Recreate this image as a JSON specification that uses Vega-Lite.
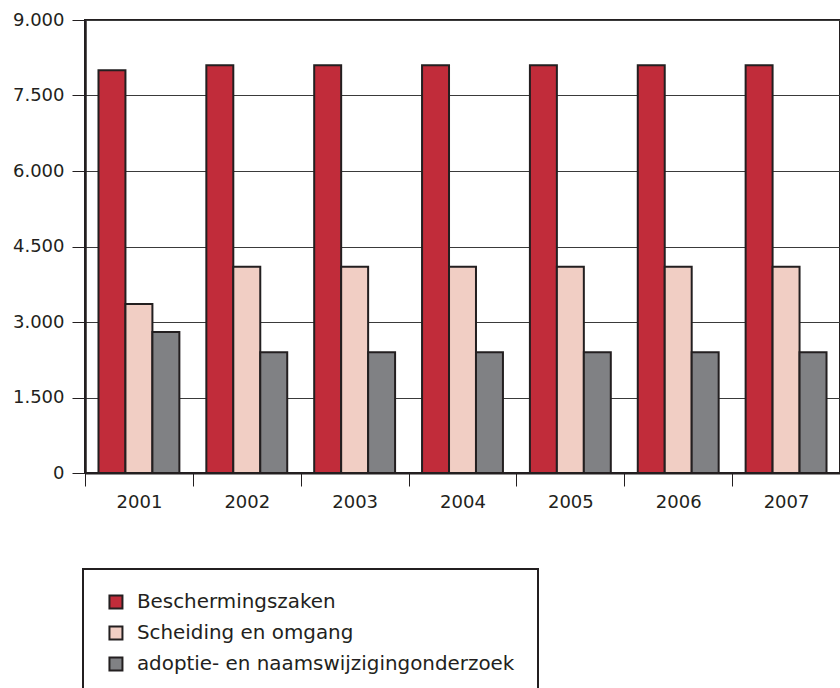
{
  "$schema": "https://vega.github.io/schema/vega-lite/v6.json",
  "width": 755,
  "height": 453,
  "autosize": {"type": "none"},
  "padding": {"left": 85, "top": 20, "right": 0, "bottom": 215},
  "background": "white",
  "config": {
    "view": {"stroke": "#231f20", "strokeWidth": 2},
    "font": "DejaVu Sans"
  },
  "data": {
    "values": [
      {"year": "2001", "series": "Beschermingszaken", "value": 8000},
      {"year": "2001", "series": "Scheiding en omgang", "value": 3360},
      {"year": "2001", "series": "adoptie- en naamswijzigingonderzoek", "value": 2800},
      {"year": "2002", "series": "Beschermingszaken", "value": 8100},
      {"year": "2002", "series": "Scheiding en omgang", "value": 4100},
      {"year": "2002", "series": "adoptie- en naamswijzigingonderzoek", "value": 2400},
      {"year": "2003", "series": "Beschermingszaken", "value": 8100},
      {"year": "2003", "series": "Scheiding en omgang", "value": 4100},
      {"year": "2003", "series": "adoptie- en naamswijzigingonderzoek", "value": 2400},
      {"year": "2004", "series": "Beschermingszaken", "value": 8100},
      {"year": "2004", "series": "Scheiding en omgang", "value": 4100},
      {"year": "2004", "series": "adoptie- en naamswijzigingonderzoek", "value": 2400},
      {"year": "2005", "series": "Beschermingszaken", "value": 8100},
      {"year": "2005", "series": "Scheiding en omgang", "value": 4100},
      {"year": "2005", "series": "adoptie- en naamswijzigingonderzoek", "value": 2400},
      {"year": "2006", "series": "Beschermingszaken", "value": 8100},
      {"year": "2006", "series": "Scheiding en omgang", "value": 4100},
      {"year": "2006", "series": "adoptie- en naamswijzigingonderzoek", "value": 2400},
      {"year": "2007", "series": "Beschermingszaken", "value": 8100},
      {"year": "2007", "series": "Scheiding en omgang", "value": 4100},
      {"year": "2007", "series": "adoptie- en naamswijzigingonderzoek", "value": 2400}
    ]
  },
  "mark": {"type": "bar", "stroke": "#231f20", "strokeWidth": 2},
  "encoding": {
    "x": {
      "field": "year",
      "type": "nominal",
      "scale": {"paddingInner": 0, "paddingOuter": 0},
      "axis": {
        "title": null,
        "labelAngle": 0,
        "tickBand": "extent",
        "tickSize": 13,
        "tickColor": "#231f20",
        "tickWidth": 1,
        "domainColor": "#231f20",
        "domainWidth": 2,
        "labelFont": "DejaVu Sans",
        "labelFontSize": 18,
        "labelColor": "#231f20",
        "labelPadding": 7,
        "grid": false
      }
    },
    "xOffset": {
      "field": "series",
      "type": "nominal",
      "sort": ["Beschermingszaken", "Scheiding en omgang", "adoptie- en naamswijzigingonderzoek"],
      "scale": {"paddingInner": 0, "paddingOuter": 0.5}
    },
    "y": {
      "field": "value",
      "type": "quantitative",
      "scale": {"domain": [0, 9000], "nice": false},
      "axis": {
        "title": null,
        "values": [0, 1500, 3000, 4500, 6000, 7500, 9000],
        "labelExpr": "replace(format(datum.value, ','), ',', '.')",
        "tickSize": 13,
        "tickColor": "#231f20",
        "tickWidth": 1,
        "domainColor": "#231f20",
        "domainWidth": 2.5,
        "grid": true,
        "gridColor": "#3a3a3a",
        "gridWidth": 1,
        "labelFont": "DejaVu Sans",
        "labelFontSize": 18,
        "labelColor": "#231f20",
        "labelPadding": 8
      }
    },
    "color": {
      "field": "series",
      "type": "nominal",
      "sort": ["Beschermingszaken", "Scheiding en omgang", "adoptie- en naamswijzigingonderzoek"],
      "scale": {"range": ["#c12c3a", "#f1cec4", "#808184"]},
      "legend": {
        "title": null,
        "orient": "none",
        "legendX": -2,
        "legendY": 549,
        "direction": "vertical",
        "symbolType": "square",
        "symbolSize": 169,
        "symbolStrokeColor": "#231f20",
        "symbolStrokeWidth": 2,
        "symbolOpacity": 1,
        "labelFont": "DejaVu Sans",
        "labelFontSize": 19.9,
        "labelColor": "#231f20",
        "labelLimit": 600,
        "labelOffset": 11,
        "padding": 23,
        "rowPadding": 9,
        "strokeColor": "#231f20",
        "encode": {
          "legend": {"update": {"strokeWidth": {"value": 2}}}
        }
      }
    }
  }
}
